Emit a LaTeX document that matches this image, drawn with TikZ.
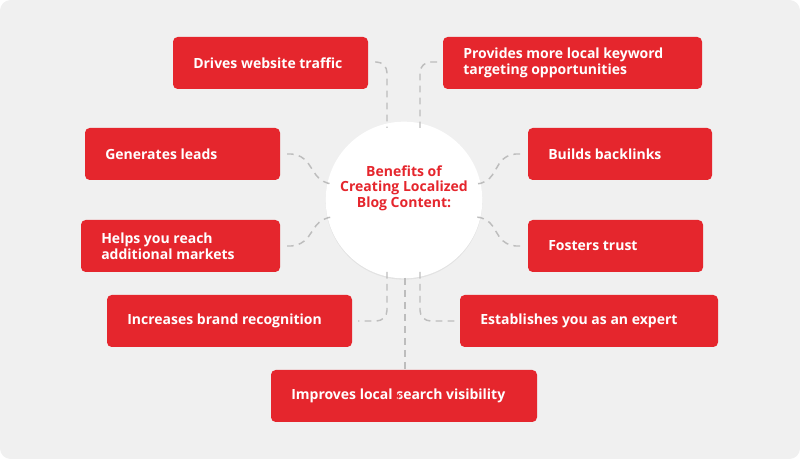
\documentclass[tikz,border=0pt]{standalone}
\usepackage{fontspec}
\setmainfont{Open Sans}
\usetikzlibrary{calc,shadows}
\definecolor{benefitred}{HTML}{E5262D}
\definecolor{canvasgray}{HTML}{F0F0F0}
\definecolor{linkgray}{HTML}{BDBDBD}
\begin{document}
\begin{tikzpicture}[x=0.75pt,y=-0.75pt,
  benefit/.style={fill=benefitred,rounded corners=3pt,text=white,font=\fontsize{10.5}{12}\selectfont\bfseries,
    align=left,inner sep=0pt},
  link/.style={draw=linkgray,dashed,dash pattern=on 5pt off 4pt,line width=1.1pt,rounded corners=8pt}]
\fill[canvasgray,rounded corners=8pt] (0,0) rectangle (800,459);
\useasboundingbox (0,0) rectangle (800,459);
% center
\node[circle,fill=white,minimum size=108pt,drop shadow={opacity=0.12,shadow xshift=0pt,shadow yshift=-1pt},
  text=benefitred,font=\fontsize{10.5}{11.5}\selectfont\bfseries,align=center] (hub) at (404,200)
  {Benefits of\\Creating Localized\\Blog Content:\\[9pt]};
% boxes: \x1,\y1,\x2,\y2 in px
\foreach \nm/\xa/\ya/\xb/\yb/\txt in {
  traffic/173/37/368/89/{Drives website traffic},
  keyword/443/37/702/89/{Provides more local keyword\\targeting opportunities},
  leads/85/128/280/180/{Generates leads},
  backlinks/528/128/712/180/{Builds backlinks},
  markets/81/220/280/272/{Helps you reach\\additional markets},
  trust/528/220/703/272/{Fosters trust},
  brand/107/295/352/347/{Increases brand recognition},
  expert/460/295/718/347/{Establishes you as an expert},
  search/271/370/537/422/{Improves local search visibility}}
{
  \fill[benefitred,rounded corners=3.5pt] (\xa,\ya) rectangle (\xb,\yb);
  \coordinate (\nm-nw) at (\xa,\ya);
  \coordinate (\nm-se) at (\xb,\yb);
  \node[benefit,anchor=west] (\nm) at (\xa+20,{(\ya+\yb)/2}) {\txt};
}
\node[benefit,anchor=center] at (search) {};
% connectors
\draw[link] ($(traffic-se)+(7,-27)$) -| ($(hub.center)+(-17,-72)$);
\draw[link] ($(keyword-nw)+(-6,25)$) -| ($(hub.center)+(16,-72)$);
\draw[link] ($(leads-se)+(7,-26)$) -- (302,154) -- (322,184) -- (333,184);
\draw[link] ($(backlinks-nw)+(-8,26)$) -- (505,154) -- (487,184) -- (476,184);
\draw[link] ($(markets-se)+(7,-26)$) -- (302,246) -- (322,217) -- (333,217);
\draw[link] ($(trust-nw)+(-8,26)$) -- (505,246) -- (487,217) -- (476,217);
\draw[link] ($(hub.center)+(-17,72)$) |- ($(brand-se)+(6,-26)$);
\draw[link] ($(hub.center)+(16,72)$) |- ($(expert-nw)+(-5,26)$);
\draw[link] ($(hub.center)+(1,78)$) -- ($(search-nw)+(134,0)$);
\end{tikzpicture}
\end{document}
